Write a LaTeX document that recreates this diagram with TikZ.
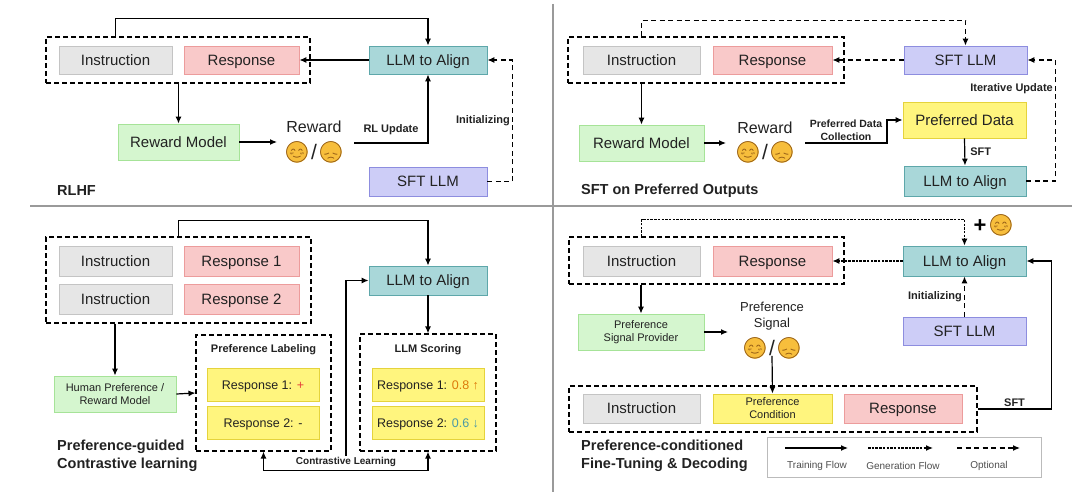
\documentclass[tikz,border=0pt]{standalone}
\usepackage{fontspec}
\setmainfont{Liberation Sans}
\newfontfamily\emojifont{Noto Emoji}
\usepackage{tikz}
\usetikzlibrary{arrows.meta}

\definecolor{textdark}{HTML}{222222}
\definecolor{instrfill}{HTML}{E6E6E6}
\definecolor{instrline}{HTML}{C4C4C4}
\definecolor{respfill}{HTML}{F9C9C9}
\definecolor{respline}{HTML}{EC9C9C}
\definecolor{alignfill}{HTML}{A9D7D9}
\definecolor{alignline}{HTML}{5EA7AA}
\definecolor{sftfill}{HTML}{CDCDF7}
\definecolor{sftline}{HTML}{8D8DDF}
\definecolor{rmfill}{HTML}{D5F6CF}
\definecolor{rmline}{HTML}{A6E398}
\definecolor{preffill}{HTML}{FFF57E}
\definecolor{prefline}{HTML}{E5D33C}
\definecolor{emoface}{HTML}{F7BE3C}
\definecolor{emoline}{HTML}{8A5312}
\definecolor{plusred}{HTML}{E5403A}
\definecolor{upcol}{HTML}{DD7A0A}
\definecolor{downcol}{HTML}{4C9AA6}
\definecolor{divgray}{HTML}{9A9A9A}
\definecolor{legline}{HTML}{BBBBBB}

\newcommand{\emoHappy}{😊}
\newcommand{\emoSad}{😞}

\tikzset{
  wh/.style 2 args={minimum width=#1pt, minimum height=#2pt},
  box/.style={draw, line width=0.8pt, inner sep=1pt, align=center, text=textdark,
    font=\fontsize{15}{18}\selectfont, text height=10.7pt, text depth=0pt},
  instr/.style={box, fill=instrfill, draw=instrline},
  resp/.style={box, fill=respfill, draw=respline},
  tuned/.style={box, fill=alignfill, draw=alignline},
  sft/.style={box, fill=sftfill, draw=sftline},
  judge/.style={box, fill=rmfill, draw=rmline},
  pref/.style={box, fill=preffill, draw=prefline},
  small/.style={font=\fontsize{11}{13}\selectfont, text height=, text depth=},
  scorefont/.style={font=\fontsize{12.5}{15}\selectfont, text height=9pt, text depth=0pt},
  group/.style={draw, line width=1.1pt, dash pattern=on 5pt off 3pt, inner sep=0pt},
  arr/.style={line width=1.2pt, -{Latex[length=7pt,width=6pt]}},
  biarr/.style={line width=1.2pt, {Latex[length=7pt,width=6pt]}-{Latex[length=7pt,width=6pt]}},
  optarr/.style={arr, dash pattern=on 5pt off 3.5pt},
  genarr/.style={arr, dash pattern=on 2.5pt off 1.2pt},
  lab/.style={font=\bfseries\fontsize{11}{13}\selectfont, inner sep=2pt, text=textdark},
  title/.style={font=\bfseries\fontsize{14.5}{18}\selectfont, anchor=west, align=left,
    inner sep=0pt, text=textdark},
  bigtxt/.style={font=\fontsize{16}{19}\selectfont, inner sep=0pt, align=center, text=textdark},
  emo/.style={circle, fill=emoface, inner sep=-4.5pt, minimum size=0pt, text=emoline,
    font=\emojifont\fontsize{21}{21}\selectfont},
  slash/.style={inner sep=0pt, text=textdark, font=\fontsize{21}{21}\selectfont},
  legtxt/.style={font=\fontsize{10}{12}\selectfont, inner sep=0pt, text=textdark!80},
  divider/.style={draw=divgray, line width=1.5pt},
}

\begin{document}
\begin{tikzpicture}[x=1pt, y=-1pt]

        \useasboundingbox (0,0) rectangle (1080,503);
        \fill[white] (0,0) rectangle (1080,503);

        \draw[divider] (30,206) -- (1072,206);
        \draw[divider] (553,4) -- (553,492);

        % RLHF
        \node[group, wh={264}{46}] (rlPair) at (178,60) {};
        \node[instr, wh={113}{28}] (rlInstr) at (115.5,60) {Instruction};
        \node[resp, wh={115}{28}] (rlResp) at (241.5,60) {Response};
        \node[tuned, wh={118}{28}] (rlLLM) at (428,60) {LLM to Align};
        \node[judge, wh={121}{36}] (rlRM) at (178.5,142) {Reward Model};
        \node[sft, wh={118}{29}] (rlSFT) at (428,181.5) {SFT LLM};
        \node[bigtxt] (rlRwTxt) at (314,127) {Reward};
        \node[emo] (rlHappy) at (297,152) {\emoHappy};
        \node[slash] (rlSlash) at (314,152) {/};
        \node[emo] (rlSad) at (331,152) {\emoSad};
        \coordinate (rlRwIn) at (277,142);
        \coordinate (rlRwOut) at (354,143);
        \node[title] (rlTitle) at (57,191) {RLHF};

        \draw[arr] (rlInstr.north |- rlPair.north) -- ++(0,-18) -| (rlLLM.north);
        \draw[arr] (rlLLM.west) -- (rlResp.east);
        \draw[arr] (rlRM.north |- rlPair.south) -- (rlRM.north);
        \draw[arr] (rlRM.east) -- (rlRwIn);
        \draw[arr] (rlRwOut) -| node[lab, pos=0.25, above=6pt] {RL Update} (rlLLM.south);
        \draw[optarr] (rlSFT.east) -- ++(25,0) |- node[lab, pos=0.25, left] {Initializing} (rlLLM.east);

        % SFT on preferred outputs
        \node[group, wh={276}{46}] (sftPair) at (706,60) {};
        \node[instr, wh={117}{28}] (sftInstr) at (641.5,60) {Instruction};
        \node[resp, wh={119}{28}] (sftResp) at (772.5,60) {Response};
        \node[sft, wh={123}{28}] (sftSFT) at (965.5,60) {SFT LLM};
        \node[judge, wh={125}{36}] (sftRM) at (641.5,143) {Reward Model};
        \node[pref, wh={123}{36}] (sftPD) at (964.5,120) {Preferred Data};
        \node[tuned, wh={122}{30}] (sftLLM) at (965,181) {LLM to Align};
        \node[bigtxt] (sftRwTxt) at (765,128) {Reward};
        \node[emo] (sftHappy) at (748,152) {\emoHappy};
        \node[slash] (sftSlash) at (765,152) {/};
        \node[emo] (sftSad) at (782,152) {\emoSad};
        \coordinate (sftRwIn) at (726,143);
        \coordinate (sftRwOut) at (805,143);
        \node[title] (sftTitle) at (581,191) {SFT on Preferred Outputs};

        \draw[optarr] (sftInstr.north |- sftPair.north) -- ++(0,-16) -| (sftSFT.north);
        \draw[optarr] (sftSFT.west) -- (sftResp.east);
        \draw[arr] (sftRM.north |- sftPair.south) -- (sftRM.north);
        \draw[arr] (sftRM.east) -- (sftRwIn);
        \draw[arr] (sftRwOut) -- node[lab, above, align=center, font=\bfseries\fontsize{10.5}{13}\selectfont] {Preferred Data\\Collection} ++(82,0) |- (sftPD.west);
        \draw[arr] (sftPD.south) -- node[lab, right=3pt] {SFT} (sftLLM.north);
        \draw[optarr] (sftLLM.east) -- ++(29,0) |- node[lab, pos=0.38, left] {Iterative Update} (sftSFT.east);

        % preference-guided contrastive learning
        \node[group, wh={265}{86}] (pgPair) at (178.5,280) {};
        \node[instr, wh={113}{30}] (pgInstrA) at (115.5,261) {Instruction};
        \node[resp, wh={115}{30}] (pgRespA) at (241.5,261) {Response 1};
        \node[instr, wh={113}{30}] (pgInstrB) at (115.5,299) {Instruction};
        \node[resp, wh={115}{30}] (pgRespB) at (241.5,299) {Response 2};
        \node[tuned, wh={118}{29}] (pgLLM) at (428,280.5) {LLM to Align};
        \node[judge, small, wh={122}{36}] (pgHP) at (115,394) {Human Preference /\\Reward Model};

        \node[group, wh={135}{116}] (pgLab) at (263.5,393) {};
        \node[lab] (pgLabTitle) at (263.5,350) {Preference Labeling};
        \node[pref, scorefont, wh={112}{33}] (pgLabA) at (263,384.5) {Response 1: \textcolor{plusred}{+}};
        \node[pref, scorefont, wh={112}{33}] (pgLabB) at (263,422.5) {Response 2: -};

        \node[group, wh={136}{117}] (pgScore) at (428,392.5) {};
        \node[lab] (pgScoreTitle) at (428,350) {LLM Scoring};
        \node[pref, scorefont, wh={112}{33}] (pgScoreA) at (428,384.5) {Response 1: \textcolor{upcol}{0.8 ↑}};
        \node[pref, scorefont, wh={112}{33}] (pgScoreB) at (428,422.5) {Response 2: \textcolor{downcol}{0.6 ↓}};

        \node[lab, font=\bfseries\fontsize{10}{12}\selectfont, inner sep=1pt] (pgCL) at (346,462) {Contrastive Learning};
        \node[title] (pgTitle) at (57,456) {Preference-guided\\Contrastive learning};

        \draw[arr] (pgPair.north) -- ++(0,-16) -| (pgLLM.north);
        \draw[arr] (pgLLM.south) -- (pgScore.north);
        \draw[arr] (pgHP.north |- pgPair.south) -- (pgHP.north);
        \draw[arr] (pgHP.east) -- (pgLab.west);
        \draw[arr] (pgCL.north) |- (pgLLM.west);
        \draw[biarr] (pgLab.south) -- ++(0,19) -| (pgScore.south);

        % preference-conditioned fine-tuning & decoding
        \node[group, wh={275}{47}] (pcPair) at (706.5,260.5) {};
        \node[instr, wh={117}{30}] (pcInstr) at (641.5,261) {Instruction};
        \node[resp, wh={119}{30}] (pcResp) at (772.5,261) {Response};
        \node[tuned, wh={123}{30}] (pcLLM) at (964.5,261) {LLM to Align};
        \node[inner sep=0pt, font=\bfseries\fontsize{22}{22}\selectfont] (pcPlus) at (980,226) {+};
        \node[emo] (pcPlusEmo) at (1001,225) {\emoHappy};
        \node[judge, small, wh={126}{36}] (pcPSP) at (641,332) {Preference\\Signal Provider};
        \node[bigtxt, font=\fontsize{13}{16}\selectfont] (pcSignal) at (772,316) {Preference\\Signal};
        \node[emo] (pcHappy) at (755,348) {\emoHappy};
        \node[slash] (pcSlash) at (772,348) {/};
        \node[emo] (pcSad) at (789,348) {\emoSad};
        \node[sft, wh={123}{28}] (pcSFT) at (964.5,331) {SFT LLM};
        \coordinate (pcSigIn) at (728,332);

        \node[group, wh={408}{46}] (pcCond) at (773,409) {};
        \node[instr, wh={117}{29}] (pcInstr2) at (641.5,408.5) {Instruction};
        \node[pref, small, wh={119}{29}] (pcPC) at (772.5,408.5) {Preference\\Condition};
        \node[resp, wh={118}{29}] (pcResp2) at (903,408.5) {Response};
        \node[title] (pcTitle) at (581,456) {Preference-conditioned\\Fine-Tuning \& Decoding};

        \draw[genarr] (pcInstr.north |- pcPair.north) -- ++(0,-17) -| (pcLLM.north);
        \draw[genarr] (pcLLM.west) -- (pcResp.east);
        \draw[arr] (pcPSP.north |- pcPair.south) -- (pcPSP.north);
        \draw[arr] (pcPSP.east) -- (pcSigIn);
        \draw[arr] (pcSlash.south) -- (pcPC.north);
        \draw[optarr] (pcSFT.north) -- node[lab, left] {Initializing} (pcLLM.south);
        \draw[arr] (pcCond.east) -- node[lab, above] {SFT} ++(74,0) |- (pcLLM.east);

        % legend
        \node[draw=legline, line width=0.8pt, wh={274}{40}] (legend) at (904,457) {};
        \coordinate (lgTrainA) at (785,448);
        \coordinate (lgTrainB) at (848,448);
        \coordinate (lgGenA) at (868,448);
        \coordinate (lgGenB) at (933,448);
        \coordinate (lgOptA) at (957,448);
        \coordinate (lgOptB) at (1020,448);
        \draw[arr] (lgTrainA) -- (lgTrainB);
        \draw[genarr] (lgGenA) -- (lgGenB);
        \draw[optarr] (lgOptA) -- (lgOptB);
        \node[legtxt] (lgTrain) at (817,466) {Training Flow};
        \node[legtxt] (lgGen) at (903,466) {Generation Flow};
        \node[legtxt] (lgOpt) at (989,466) {Optional};

\end{tikzpicture}
\end{document}
